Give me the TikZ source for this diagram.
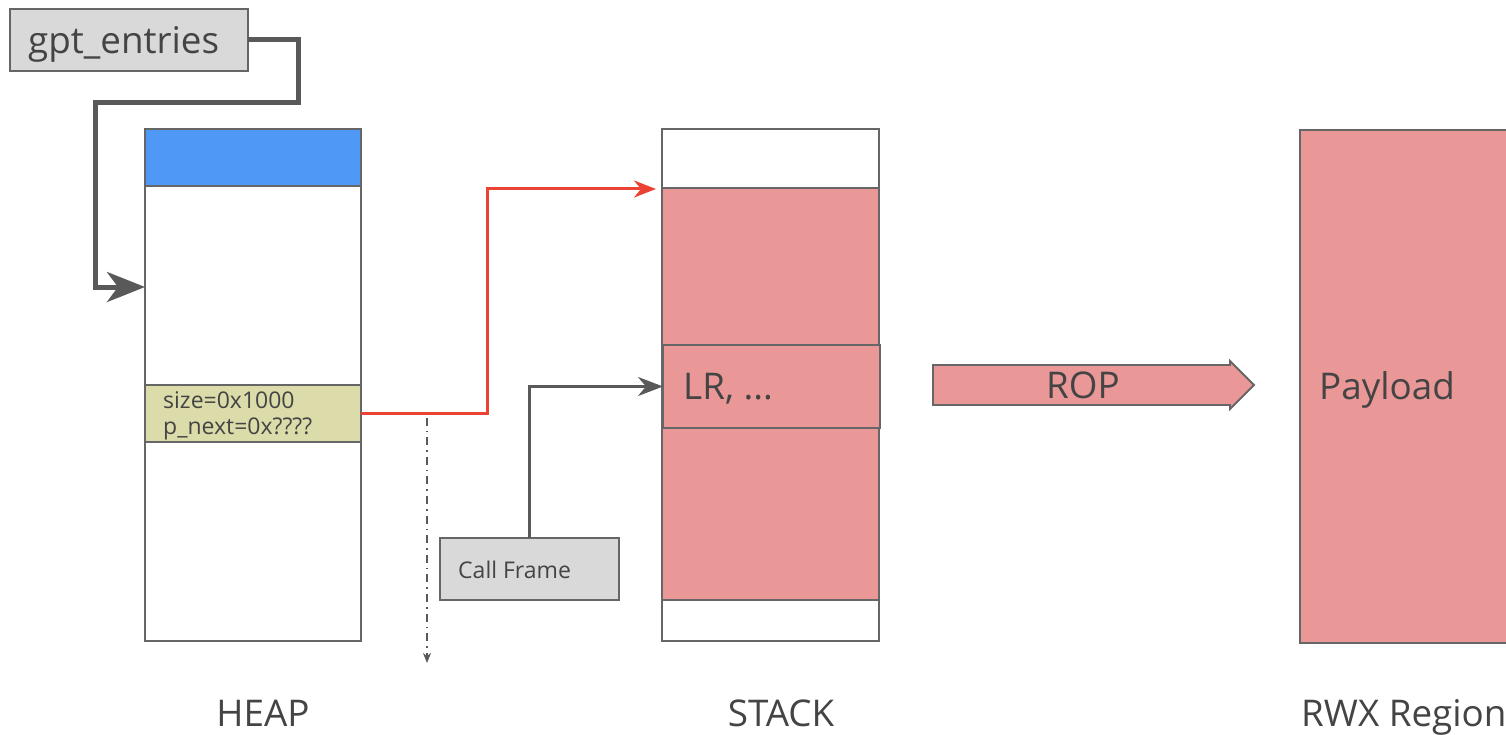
\documentclass[tikz,border=0pt]{standalone}
\usepackage{fontspec}
\setmainfont{Open Sans}
\usetikzlibrary{arrows.meta,calc}
\definecolor{edge}{HTML}{666666}
\definecolor{ink}{HTML}{444444}
\definecolor{wire}{HTML}{595959}
\definecolor{chipgray}{HTML}{D9D9D9}
\definecolor{hdrblue}{HTML}{4F98F6}
\definecolor{hdrkhaki}{HTML}{DCDCAA}
\definecolor{rosy}{HTML}{EA9797}
\definecolor{hot}{HTML}{EA4335}
\newcommand\bigtxt{\fontsize{36.8}{40}\selectfont}
\newcommand\smalltxt{\fontsize{23}{26}\selectfont}
\tikzset{
  cell/.style={draw=edge, line width=1.8pt, inner sep=0pt, outer sep=0pt},
  chip/.style={cell, fill=chipgray, text=ink},
  caption/.style={text=ink, inner sep=0pt, font=\bigtxt},
  note/.style={text=ink, inner sep=0pt, font=\smalltxt},
  ptrthick/.style={draw=wire, line width=5pt, line join=miter,
    -{Stealth[length=38pt,width=30pt,inset=11pt]}},
  ptrred/.style={draw=hot, line width=3pt, line join=miter,
    -{Stealth[length=22pt,width=17pt,inset=7pt]}},
  ptrthin/.style={draw=wire, line width=3pt, line join=miter,
    -{Stealth[length=25pt,width=19pt,inset=8pt]}},
  growth/.style={draw=wire, line width=1.6pt, dash pattern=on 8pt off 5pt on 1.6pt off 5pt,
    -{Stealth[length=10pt,width=8pt,inset=3pt]}},
}
\begin{document}
\begin{tikzpicture}[x=1pt,y=-1pt]
\useasboundingbox (0,0) rectangle (1506,735);

% pointer variable
\node[chip, minimum width=238pt, minimum height=62pt] (gpt) at (129,40) {};
\node[caption, anchor=base west] (gpttext) at ([xshift=18pt,yshift=-14pt]gpt.west) {gpt\_entries};

% heap column
\node[cell, fill=white, minimum width=216pt, minimum height=512pt] (heap) at (253,385) {};
\node[cell, fill=hdrblue, minimum width=216pt, minimum height=57pt] (heaphdr) at (253,157.5) {};
\node[cell, fill=hdrkhaki, minimum width=216pt, minimum height=57pt] (chunk) at (253,413.5) {};
\node[note, anchor=base west] (sizetext) at ([xshift=18pt,yshift=5.5pt]chunk.west) {size=0x1000};
\node[note, anchor=base west] (nexttext) at ([xshift=18pt,yshift=-20.5pt]chunk.west) {p\_next=0x????};

% stack column
\node[cell, fill=white, minimum width=217pt, minimum height=512pt] (stack) at (770.5,385) {};
\node[cell, fill=rosy, minimum width=217pt, minimum height=412pt] (frames) at (770.5,394) {};
\node[cell, fill=rosy, minimum width=217pt, minimum height=83pt] (lr) at (771.5,386.5) {};
\node[caption, anchor=base west] (lrtext) at ([xshift=20pt,yshift=-12.5pt]lr.west) {LR, ...};

% call frame tag
\node[chip, minimum width=179pt, minimum height=62pt] (cf) at (529.5,569) {};
\node[note, anchor=base west] (cftext) at ([xshift=18pt,yshift=-9pt]cf.west) {Call Frame};

% RWX region
\node[cell, fill=rosy, minimum width=220pt, minimum height=513pt, anchor=north west] (rwx) at (1300,130) {};
\node[caption, anchor=base west] (payload) at ([xshift=19pt,yshift=-13pt]rwx.west) {Payload};

% ROP block arrow
\draw[edge, line width=1.8pt, fill=rosy, line join=miter]
  (933,365) -- (1230,365) -- (1230,361) -- (1254,385) -- (1230,409) -- (1230,405) -- (933,405) -- cycle;
\node[caption, anchor=base] (rop) at (1083,398) {ROP};

% column captions
\node[caption, anchor=base] (heaplbl) at (263,726) {HEAP};
\node[caption, anchor=base] (stacklbl) at (781,726) {STACK};
\node[caption, anchor=base west] (rwxlbl) at (1301,726) {RWX Region};

% connectors
\draw[ptrthick] (gpt.east) -- ++(50,0) |- (95,103) |- ([yshift=98pt]heap.west);
\draw[ptrred, shorten >=6pt] (chunk.east) -- ++(126,0) |- ([yshift=-1pt]frames.north west);
\coordinate (fork) at ($(chunk.east)+(66,4)$);
\coordinate (drop) at (427,663);
\draw[growth] (fork) -- (drop);
\draw[ptrthin] (cf.north) |- (lr.west);
\end{tikzpicture}
\end{document}
